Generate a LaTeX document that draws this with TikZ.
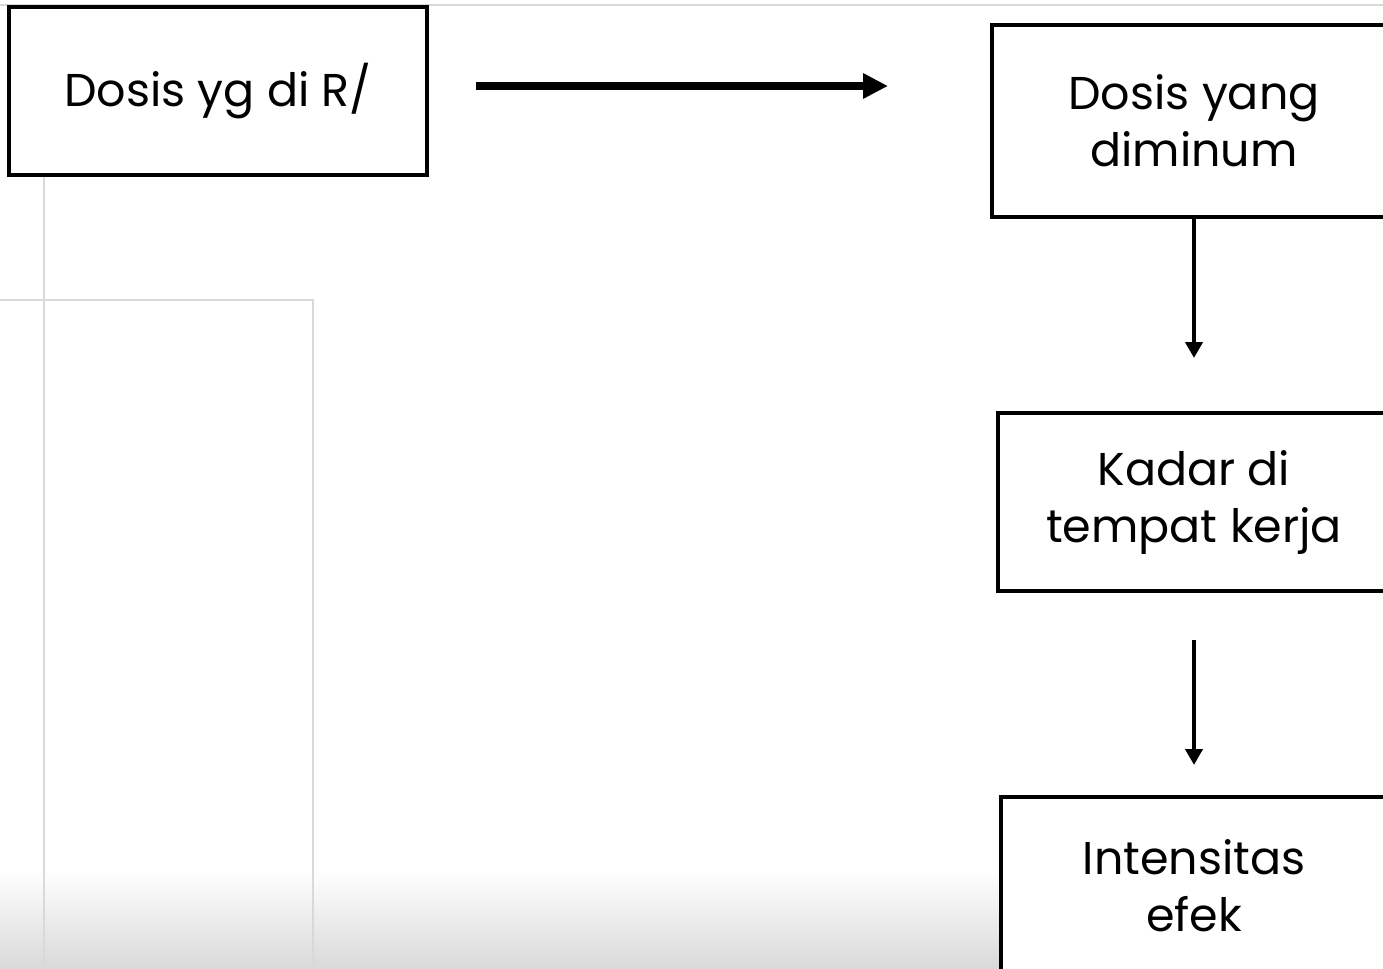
\documentclass[tikz,border=0pt]{standalone}
\usepackage{fontspec}
\setmainfont{Poppins}
\usetikzlibrary{arrows.meta}

\begin{document}
\begin{tikzpicture}[x=0.5pt,y=-0.5pt,
  kotak/.style={draw,line width=2pt,fill=white,align=center,inner sep=0pt,
    font=\fontsize{23}{28.5}\selectfont},
  panah/.style={line width=2pt,-{Triangle[length=8pt,width=8.5pt]}},
  panahbesar/.style={line width=4pt,-{Triangle[length=12.5pt,width=12pt]}},
  garis/.style={gray!30,line width=1pt}]
\useasboundingbox (0,0) rectangle (1383,969);
\begin{scope}
\clip (0,0) rectangle (1383,969);
% latar slide
\shade[top color=white,bottom color=gray!30] (0,870) rectangle (1383,969);
\draw[garis] (0,5) -- (1383,5);
\draw[garis] (44,176) -- (44,969);
\draw[garis] (0,300) -| (313,969);
% kotak
\node[kotak,minimum width=209pt,minimum height=84pt] (resep) at (218,91) {Dosis yg di R/};
\node[kotak,minimum width=202pt,minimum height=96pt] (minum) at (1194,121) {Dosis yang\\diminum};
\node[kotak,minimum width=196pt,minimum height=89pt] (kadar) at (1194,502) {Kadar di\\tempat kerja};
\node[kotak,minimum width=193pt,minimum height=89pt] (efek) at (1194,886) {Intensitas\\efek};
% panah
\draw[panahbesar,shorten <=23.5pt,shorten >=51pt]
  ([yshift=2.5pt]resep.east) -- ([yshift=2.5pt]resep.east -| minum.west);
\draw[panah,shorten >=26.5pt] (minum) -- (kadar);
\draw[panah,shorten <=23.5pt,shorten >=15pt] (kadar) -- (efek);
\end{scope}
\end{tikzpicture}
\end{document}
